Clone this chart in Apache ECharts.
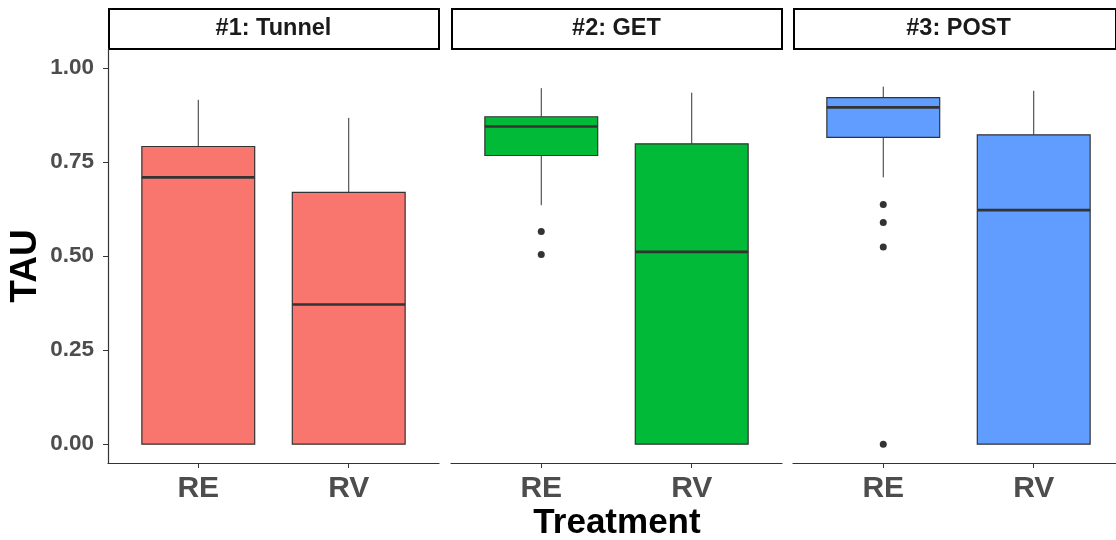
<!DOCTYPE html>
<html>
<head>
<meta charset="utf-8">
<script src="https://cdn.jsdelivr.net/npm/echarts@6/dist/echarts.min.js"></script>
<style>html,body{margin:0;padding:0;background:#fff;}#chart{width:1116px;height:540px;}</style>
</head>
<body>
<div id="chart"></div>
<script>
// ---- data ----
const panels = ['#1: Tunnel', '#2: GET', '#3: POST'];
const categories = ['RE', 'RV'];
const yTicks = [0, 0.25, 0.5, 0.75, 1.0];
// [lower whisker, Q1, median, Q3, upper whisker] for RE, RV
const tunnelStats = [[0, 0, 0.709, 0.791, 0.915], [0, 0, 0.371, 0.669, 0.867]];
const getStats    = [[0.635, 0.767, 0.844, 0.870, 0.946], [0, 0, 0.511, 0.798, 0.934]];
const postStats   = [[0.709, 0.815, 0.895, 0.921, 0.950], [0, 0, 0.622, 0.822, 0.939]];
// outliers (RE only)
const tunnelOutliersRE = [];
const getOutliersRE  = [0.565, 0.504];
const postOutliersRE = [0.637, 0.589, 0.524, 0.0];
const panelColors = ['#F8766D', '#00BA38', '#619CFF'];

const allStats = [tunnelStats, getStats, postStats];
const allOutliers = [tunnelOutliersRE, getOutliersRE, postOutliersRE];

const FONT = "'Liberation Sans', Arial, sans-serif";
const gridLefts = [108, 451, 793];
const gridW = 331;
const gridTop = 49, gridH = 414;

const chart = echarts.init(document.getElementById('chart'), null, {renderer: 'canvas'});

const grids = [], xAxes = [], yAxes = [], series = [], graphics = [];
panels.forEach((name, i) => {
  grids.push({left: gridLefts[i], width: gridW, top: gridTop, height: gridH,
    containLabel: false, outerBoundsMode: 'none'});
  xAxes.push({
    gridIndex: i, type: 'value', min: 0.4, max: 2.6,
    splitLine: {show: false},
    axisLine: {show: true, onZero: false, lineStyle: {color: '#333333', width: 1.2}},
    axisTick: {show: true, customValues: [1, 2], length: 5, lineStyle: {color: '#333333', width: 1}},
    axisLabel: {customValues: [1, 2], formatter: v => categories[Math.round(v) - 1],
      fontSize: 30, fontWeight: 'bold', color: '#4D4D4D', fontFamily: FONT, margin: 11}
  });
  yAxes.push({
    gridIndex: i, type: 'value', min: -0.05, max: 1.05,
    splitLine: {show: false},
    axisLine: {show: i === 0, onZero: false, lineStyle: {color: '#333333', width: 1.2}},
    axisTick: {show: i === 0, customValues: yTicks, length: 5, lineStyle: {color: '#333333', width: 1}},
    axisLabel: {show: i === 0, customValues: yTicks, formatter: v => v.toFixed(2),
      fontSize: 22.5, fontWeight: 'bold', color: '#4D4D4D', fontFamily: FONT, margin: 14}
  });
  const boxData = allStats[i].map((s, k) => [k + 1].concat(s));
  const color = panelColors[i];
  series.push({
    type: 'custom', xAxisIndex: i, yAxisIndex: i,
    encode: {x: 0, y: [1, 2, 3, 4, 5]},
    data: boxData,
    renderItem: function (params, api) {
      const x = api.value(0);
      const pLo = api.coord([x, api.value(1)]);
      const pQ1 = api.coord([x, api.value(2)]);
      const pMed = api.coord([x, api.value(3)]);
      const pQ3 = api.coord([x, api.value(4)]);
      const pHi = api.coord([x, api.value(5)]);
      const halfW = api.size([0.75, 0])[0] / 2;
      const cx = pMed[0];
      const stroke = {stroke: '#333333', lineWidth: 1};
      return {
        type: 'group',
        children: [
          {type: 'line', shape: {x1: cx, y1: pQ3[1], x2: cx, y2: pHi[1]}, style: stroke},
          {type: 'line', shape: {x1: cx, y1: pLo[1], x2: cx, y2: pQ1[1]}, style: stroke},
          {type: 'rect', shape: {x: cx - halfW, y: pQ3[1], width: 2 * halfW, height: pQ1[1] - pQ3[1]},
            style: {fill: color, stroke: '#333333', lineWidth: 1.2}},
          {type: 'line', shape: {x1: cx - halfW, y1: pMed[1], x2: cx + halfW, y2: pMed[1]},
            style: {stroke: '#333333', lineWidth: 2.6}}
        ]
      };
    }
  });
  series.push({
    type: 'scatter', xAxisIndex: i, yAxisIndex: i,
    symbol: 'circle', symbolSize: 7,
    itemStyle: {color: '#333333', opacity: 1},
    data: allOutliers[i].map(v => [1, v]),
    silent: true
  });
  // strip
  const stripW = i === 2 ? (1115 - gridLefts[i]) : gridW - 1;
  graphics.push({
    type: 'rect', left: gridLefts[i], top: 8,
    shape: {x: 0, y: 0, width: stripW, height: 40},
    style: {fill: '#ffffff', stroke: '#000000', lineWidth: 2}
  });
  graphics.push({
    type: 'text', x: gridLefts[i] + gridW / 2, y: 29,
    style: {text: name, fontSize: 23.5, fontWeight: 'bold', fill: '#1A1A1A', fontFamily: FONT,
      textAlign: 'center', textVerticalAlign: 'middle'}
  });
});

graphics.push({
  type: 'text', x: 26, y: 266, rotation: Math.PI / 2,
  style: {text: 'TAU', fontSize: 37, fontWeight: 'bold', fill: '#000000', fontFamily: FONT,
    textAlign: 'center', textVerticalAlign: 'middle'}
});
graphics.push({
  type: 'text', x: 617, y: 523,
  style: {text: 'Treatment', fontSize: 35, fontWeight: 'bold', fill: '#000000', fontFamily: FONT,
    textAlign: 'center', textVerticalAlign: 'middle'}
});

chart.setOption({
  backgroundColor: '#ffffff',
  animation: false,
  grid: grids,
  xAxis: xAxes,
  yAxis: yAxes,
  series: series,
  graphic: graphics
});
</script>
</body>
</html>
